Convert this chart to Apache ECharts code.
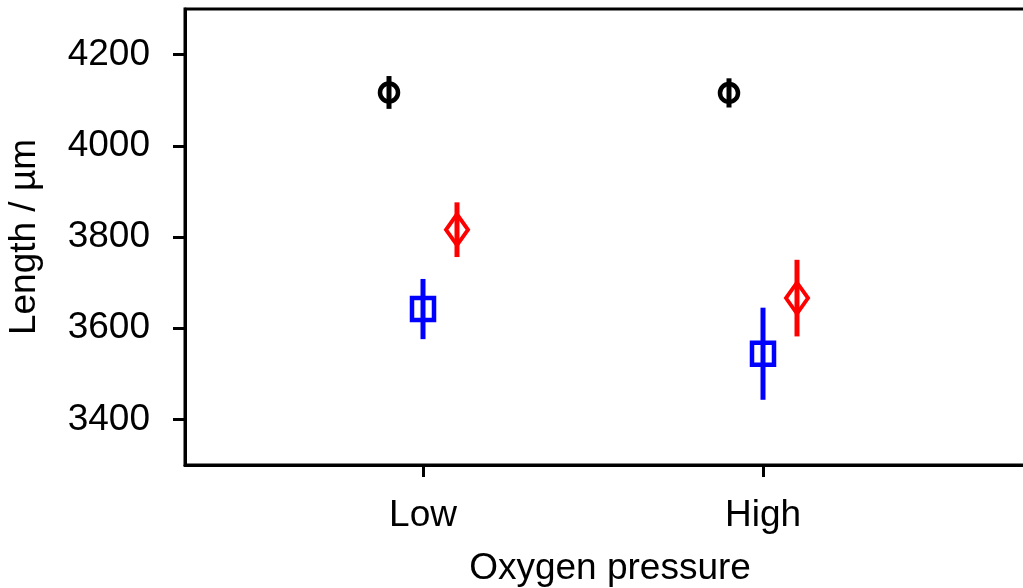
<!DOCTYPE html>
<html>
<head>
<meta charset="utf-8">
<script src="https://cdn.jsdelivr.net/npm/echarts@6/dist/echarts.min.js"></script>
<style>
html,body{margin:0;padding:0;background:#fff;}
#chart{width:1023px;height:588px;}
</style>
</head>
<body>
<div id="chart"></div>
<script>
const categories = ['Low', 'High'];
const categoryPos = [0, 1];
const yTicks = [3400, 3600, 3800, 4000, 4200];

const blackMean = [4117, 4116];
const blackErr = [36, 32];
const blueMean = [3642, 3544];
const blueErr = [66, 101];
const redMean = [3816, 3666];
const redErr = [60, 84];

const groups = [
  { name: 'black', mean: blackMean, err: blackErr, offset: -0.1, color: '#000000', symbol: 'circle', size: 18, bw: 4.5 },
  { name: 'blue', mean: blueMean, err: blueErr, offset: 0, color: '#0000ff', symbol: 'rect', size: 22, bw: 4.5 },
  { name: 'red', mean: redMean, err: redErr, offset: 0.1, color: '#ff0000', symbol: 'diamond', size: [22, 31], bw: 4 }
];

const FONT = "'Liberation Sans', Arial, sans-serif";
const FS = 37;
const series = [];
groups.forEach(g => {
  const errData = g.mean.map((m, i) => [categoryPos[i] + g.offset, m - g.err[i], m + g.err[i]]);
  series.push({
    type: 'custom',
    name: g.name + '-err',
    data: errData,
    z: 2,
    renderItem: function (params, api) {
      const x = api.value(0);
      const p1 = api.coord([x, api.value(1)]);
      const p2 = api.coord([x, api.value(2)]);
      return {
        type: 'line',
        shape: { x1: p1[0], y1: p1[1], x2: p2[0], y2: p2[1] },
        style: { stroke: g.color, lineWidth: 5 }
      };
    }
  });
  series.push({
    type: 'scatter',
    name: g.name,
    data: g.mean.map((m, i) => [categoryPos[i] + g.offset, m]),
    symbol: g.symbol,
    symbolSize: g.size,
    z: 3,
    itemStyle: { color: 'rgba(0,0,0,0)', borderColor: g.color, borderWidth: g.bw, opacity: 1 },
    emphasis: { disabled: true }
  });
});

const chart = echarts.init(document.getElementById('chart'), null, { renderer: 'canvas' });
chart.setOption({
  animation: false,
  backgroundColor: '#ffffff',
  grid: {
    left: 185, top: 9, width: 850, height: 456,
    containLabel: false,
    outerBoundsMode: 'none',
    show: true, borderColor: '#000', borderWidth: 3, backgroundColor: 'transparent'
  },
  xAxis: {
    type: 'value',
    min: -0.7, max: 1.8,
    splitLine: { show: false },
    axisLine: { show: true, onZero: false, lineStyle: { color: '#000', width: 3 } },
    axisTick: { show: true, length: 12, lineStyle: { color: '#000', width: 3 }, customValues: categoryPos },
    axisLabel: {
      show: true, customValues: categoryPos, margin: 32,
      color: '#000', fontSize: FS, fontFamily: FONT,
      formatter: function (v) { const i = categoryPos.indexOf(Math.round(v * 1000) / 1000); return i >= 0 ? categories[i] : ''; }
    },
    name: 'Oxygen pressure',
    nameLocation: 'middle',
    nameGap: 85,
    nameTextStyle: { color: '#000', fontSize: FS, fontFamily: FONT }
  },
  yAxis: {
    type: 'value',
    min: 3300, max: 4300,
    splitLine: { show: false },
    axisLine: { show: true, onZero: false, lineStyle: { color: '#000', width: 3 } },
    axisTick: { show: true, length: 12, lineStyle: { color: '#000', width: 3 }, customValues: yTicks },
    axisLabel: {
      show: true, customValues: yTicks, margin: 35,
      color: '#000', fontSize: FS, fontFamily: FONT,
      formatter: function (v) { return String(v); }
    },
    name: 'Length / µm',
    nameLocation: 'middle',
    nameGap: 142,
    nameRotate: 90,
    nameTextStyle: { color: '#000', fontSize: FS, fontFamily: FONT }
  },
  series: series
});
</script>
</body>
</html>
